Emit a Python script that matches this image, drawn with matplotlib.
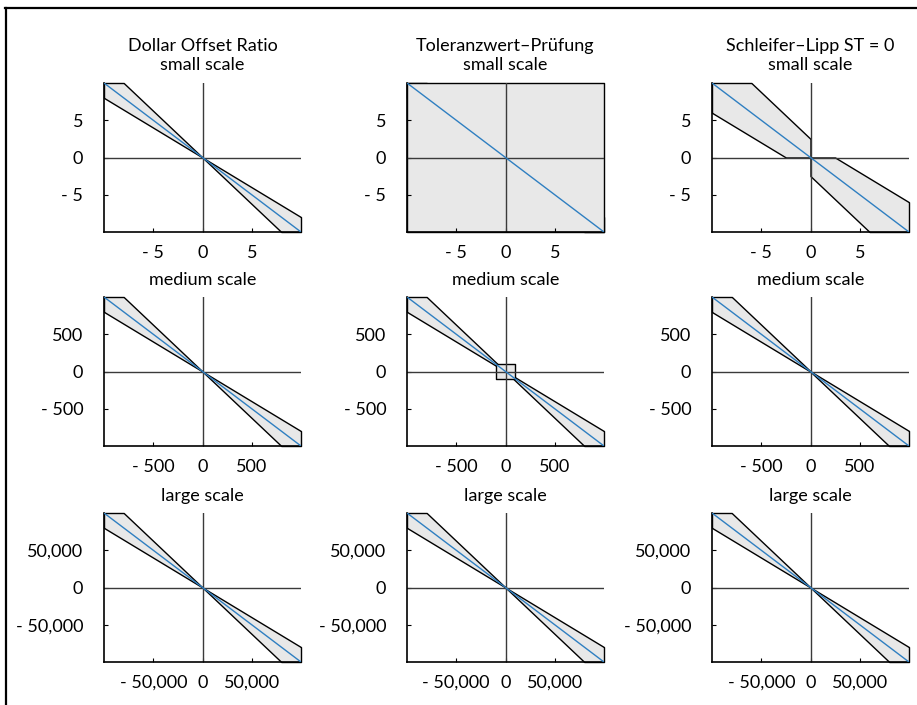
import numpy as np
import matplotlib
matplotlib.use("Agg")
import matplotlib.pyplot as plt
from matplotlib.lines import Line2D
from matplotlib.ticker import FuncFormatter

plt.rcParams['font.family'] = ['Lato', 'DejaVu Sans']

# methods (columns) and scales (rows)
methods = ["Dollar Offset Ratio", "Toleranzwert\u2013Pr\u00fcfung", "Schleifer\u2013Lipp ST = 0"]
scales = ["small scale", "medium scale", "large scale"]
limits = [10, 1000, 100000]
ticks = [[-5, 0, 5], [-500, 0, 500], [-50000, 0, 50000]]

# effectiveness band for the ratio
ratio_low = 0.8
ratio_high = 1.25
# absolute tolerance for Toleranzwert test
tolerance = 100
# shifts of the Schleifer-Lipp boundaries
sl_low_shift = 2.0
sl_high_shift = 2.5

FILL = '#e8e8e8'
BLUE = '#2f7fc1'


def fmt(v, pos):
    if v < 0:
        return "- {:,.0f}".format(abs(v))
    return "{:,.0f}".format(v)


def band(ax, x, lo, hi, lim):
    lo = np.clip(lo, -lim, lim)
    hi = np.clip(hi, -lim, lim)
    ax.fill_between(x, lo, hi, facecolor=FILL, edgecolor='black',
                    linewidth=1.0, zorder=1, clip_on=False)


def draw_panel(ax, m, lim):
    xl = np.linspace(-lim, 0, 2001)
    xr = np.linspace(0, lim, 2001)
    if m == 2:
        band(ax, xl, np.maximum(0, -ratio_low * xl - sl_low_shift),
             -ratio_high * xl + sl_high_shift, lim)
        band(ax, xr, -ratio_high * xr - sl_high_shift,
             np.minimum(0, -ratio_low * xr + sl_low_shift), lim)
    else:
        band(ax, xl, -ratio_low * xl, -ratio_high * xl, lim)
        band(ax, xr, -ratio_high * xr, -ratio_low * xr, lim)
    if m == 1:
        t = min(tolerance, lim)
        xs = np.array([-t, t])
        band(ax, xs, np.full(2, -t), np.full(2, t), lim)
    ax.axhline(0, color='#3a3a3a', lw=1.0, zorder=2)
    ax.axvline(0, color='#3a3a3a', lw=1.0, zorder=2)
    ax.plot([-lim, lim], [lim, -lim], color=BLUE, lw=1.0, zorder=3)
    ax.set_xlim(-lim, lim)
    ax.set_ylim(-lim, lim)


fig = plt.figure(figsize=(9.17, 7.05), dpi=100)
W, H = 917.0, 705.0
col_x = [104, 407, 712]
row_y = [83, 297, 513]
aw, ah = 197, 149

for r in range(3):
    for c in range(3):
        ax = fig.add_axes([col_x[c] / W, 1 - (row_y[r] + ah) / H, aw / W, ah / H])
        draw_panel(ax, c, limits[r])
        ax.set_xticks(ticks[r])
        ax.set_yticks(ticks[r])
        ax.xaxis.set_major_formatter(FuncFormatter(fmt))
        ax.yaxis.set_major_formatter(FuncFormatter(fmt))
        ax.tick_params(direction='in', length=3, width=0.8, labelsize=13)
        ax.tick_params(axis='x', pad=9)
        ax.tick_params(axis='y', pad=15)
        for s in ['top', 'right']:
            ax.spines[s].set_visible(False)
        for s in ['left', 'bottom']:
            ax.spines[s].set_linewidth(1.2)
        title = scales[r] if r > 0 else methods[c] + "\n" + scales[r]
        ax.set_title(title, fontsize=13, pad=9, linespacing=1.3)

# outer frame of the figure box
fig.add_artist(Line2D([5 / W, 1], [1 - 8 / H, 1 - 8 / H], color='black', lw=1.6))
fig.add_artist(Line2D([6 / W, 6 / W], [0, 1 - 8 / H], color='black', lw=1.6))

fig.savefig("out.png", dpi=100)
